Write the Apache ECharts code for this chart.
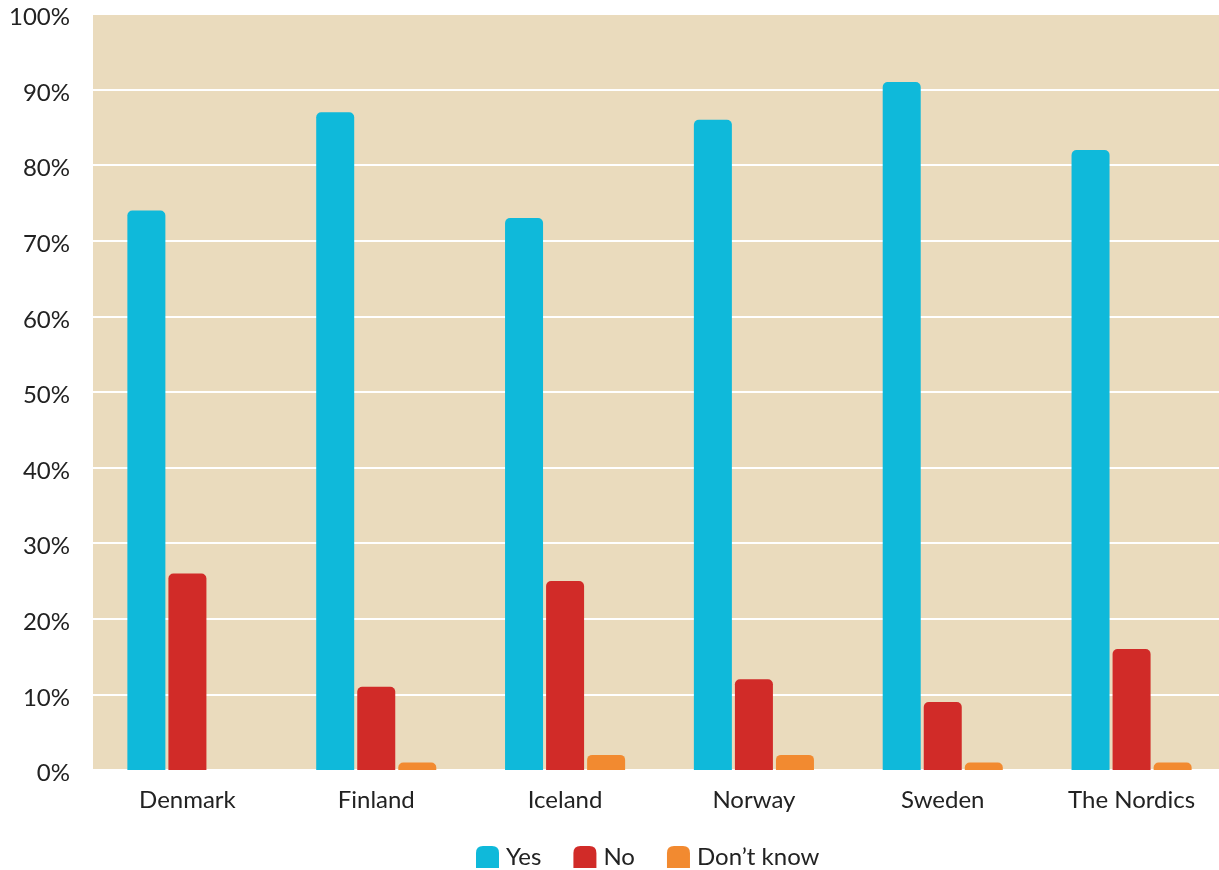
<!DOCTYPE html>
<html>
<head>
<meta charset="utf-8">
<script src="https://cdn.jsdelivr.net/npm/echarts@6/dist/echarts.min.js"></script>
<style>html,body{margin:0;padding:0;background:#fff;overflow:hidden;}#c{width:1226px;height:870px;}</style>
</head>
<body>
<div id="c"></div>
<script>
const categories = ['Denmark', 'Finland', 'Iceland', 'Norway', 'Sweden', 'The Nordics'];
const yesValues = [74, 87, 73, 86, 91, 82];
const noValues = [26, 11, 25, 12, 9, 16];
const dontKnowValues = [0, 1, 2, 2, 1, 1];
const seriesNames = ['Yes', 'No', 'Don\u2019t know'];
const colors = ['#0FB9DA', '#D12B28', '#F28A30'];

const chart = echarts.init(document.getElementById('c'));
const legendIcon = 'path://M0,7 Q0,0 7,0 L16,0 Q23,0 23,7 L23,22 L0,22 Z';
const mk = (name, data, color) => ({
  name, type: 'bar', data, barWidth: 38, barGap: '8%',
  itemStyle: { color, borderRadius: [5, 5, 0, 0] }
});
chart.setOption({
  animation: false,
  textStyle: { fontFamily: 'Lato' },
  grid: { left: 93, right: 0, top: 14, bottom: 100, show: true, backgroundColor: '#EADBBD', borderWidth: 0 },
  legend: {
    bottom: -4, left: 471, itemWidth: 23, itemHeight: 22, itemGap: 32,
    icon: legendIcon,
    textStyle: { fontSize: 24, color: '#222', fontFamily: 'Lato', padding: [0, 0, 0, 2] },
    data: seriesNames
  },
  xAxis: {
    type: 'category', data: categories,
    axisLine: { show: false }, axisTick: { show: false },
    axisLabel: { fontSize: 24, color: '#222', margin: 18 }
  },
  yAxis: {
    type: 'value', min: 0, max: 100, interval: 10,
    axisLabel: {
      formatter: v => '{a|' + v + '%}', margin: 23,
      rich: { a: { fontSize: 24, color: '#222', fontFamily: 'Lato', padding: [7, 0, 0, 0] } }
    },
    splitLine: { lineStyle: { color: '#fff', width: 2 } },
    axisLine: { show: false }, axisTick: { show: false }
  },
  series: [
    mk(seriesNames[0], yesValues, colors[0]),
    mk(seriesNames[1], noValues, colors[1]),
    mk(seriesNames[2], dontKnowValues, colors[2])
  ]
});
</script>
</body>
</html>
